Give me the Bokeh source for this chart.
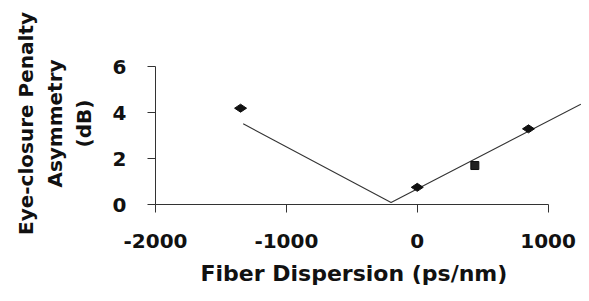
from bokeh.plotting import figure
from bokeh.models import Range1d, FixedTicker, Title, CustomJSTickFormatter
from bokeh.embed import file_html
from bokeh.resources import INLINE

# Measured data points
disp_diamond = [-1350, 0, 850]
asym_diamond = [4.2, 0.75, 3.3]
disp_square = [440]
asym_square = [1.7]

# Fitted V-shaped line
fit_x = [-1330, -200, 1250]
fit_y = [3.52, 0.09, 4.37]

x_ticks = [-2000, -1000, 0, 1000]
y_ticks = [0, 2, 4, 6]

FONT = "DejaVu Sans"

p = figure(width=581, height=293, output_backend="svg", toolbar_location=None,
           x_range=Range1d(-2000, 1255), y_range=Range1d(0, 7.065),
           min_border_left=155, min_border_right=0, min_border_top=42,
           min_border_bottom=89)
p.outline_line_color = None
p.grid.visible = False
p.background_fill_color = "white"
p.border_fill_color = "white"

p.line(fit_x, fit_y, line_color="#333333", line_width=1.1)
p.scatter(disp_diamond, asym_diamond, marker="diamond", size=12, angle=1.5708,
          fill_color="#111111", line_color="#111111")
p.scatter(disp_square, asym_square, marker="square", size=8,
          fill_color="#222222", line_color="#111111")

fmt = CustomJSTickFormatter(code="return tick.toFixed(0);")

for ax in (p.xaxis[0], p.yaxis[0]):
    ax.axis_line_color = "#333333"
    ax.major_tick_line_color = "#333333"
    ax.major_tick_out = 8
    ax.major_tick_in = 0
    ax.minor_tick_line_color = None
    ax.major_label_text_font = FONT
    ax.major_label_text_font_style = "bold"
    ax.major_label_text_font_size = "20px"
    ax.major_label_text_color = "#111111"
    ax.formatter = fmt

p.xaxis.ticker = FixedTicker(ticks=x_ticks)
p.yaxis.ticker = FixedTicker(ticks=y_ticks)
p.xaxis.bounds = (-2000, 1000)
p.yaxis.bounds = (0, 6)
p.xaxis.major_label_standoff = 21
p.yaxis.major_label_standoff = 21

p.yaxis.axis_label = "Eye-closure Penalty\nAsymmetry\n(dB)"
p.yaxis.axis_label_text_font = FONT
p.yaxis.axis_label_text_font_style = "bold"
p.yaxis.axis_label_text_font_size = "20px"
p.yaxis.axis_label_text_color = "#111111"
p.yaxis.axis_label_standoff = 14

xt = Title(text="Fiber Dispersion (ps/nm)", align="left", offset=45,
           vertical_align="bottom",
           text_font=FONT, text_font_style="bold", text_font_size="22px",
           text_color="#111111", text_line_height=1.0, standoff=16)
p.add_layout(xt, "below")

open("out.html", "w").write(file_html(p, INLINE))
